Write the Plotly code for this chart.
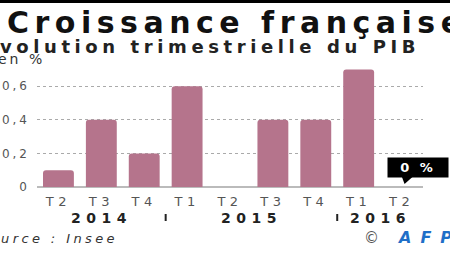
import plotly.graph_objects as go

quarters = ["T2", "T3", "T4", "T1", "T2", "T3", "T4", "T1", "T2"]
growth = [0.1, 0.4, 0.2, 0.6, 0.0, 0.4, 0.4, 0.7, 0.0]
years = ["2014", "2015", "2016"]
year_groups = [[0, 1, 2], [3, 4, 5, 6], [7, 8]]
year_breaks = [2.5, 6.5]
y_ticks = [0, 0.2, 0.4, 0.6]
y_ticklabels = ["0", "0,2", "0,4", "0,6"]
last_label = "0 %"

title = "Croissance française"
subtitle = "Évolution trimestrielle du PIB"
unit = "en %"
source = "Source : Insee"

BAR = "#b5748c"
W, H = 450, 253
ML, MR, MT, MB = 37, 27, 61, 66
PW, PH = W - ML - MR, H - MT - MB


def px_x(px):
    return (px - ML) / PW


def px_y(py):
    return (H - MB - py) / PH


def sp(text, ls):
    return f'<span style="letter-spacing:{ls}px">{text}</span>'


xs = list(range(len(quarters)))

fig = go.Figure()
fig.add_trace(go.Bar(
    x=xs, y=growth, marker=dict(color=BAR, cornerradius=3, line=dict(width=0)),
    hoverinfo="skip",
))

annotations = []
annotations.append(dict(
    text=sp(title, 5.5), xref="paper", yref="paper", x=px_x(469), y=px_y(23),
    xanchor="right", yanchor="middle", showarrow=False,
    font=dict(family="DejaVu Sans", size=30, color="#111", weight="bold"),
))
annotations.append(dict(
    text=sp(subtitle, 4.6), xref="paper", yref="paper", x=px_x(422), y=px_y(46),
    xanchor="right", yanchor="middle", showarrow=False,
    font=dict(family="DejaVu Sans", size=18, color="#222", weight="bold"),
))
annotations.append(dict(
    text=sp(unit, 3), xref="paper", yref="paper", x=px_x(47), y=px_y(59),
    xanchor="right", yanchor="middle", showarrow=False,
    font=dict(family="DejaVu Sans", size=14, color="#333"),
))
for yr, grp in zip(years, year_groups):
    annotations.append(dict(
        text=sp(yr, 5.5), xref="x", yref="paper", x=sum(grp) / len(grp), y=px_y(217.5),
        xanchor="center", yanchor="middle", showarrow=False,
        font=dict(family="DejaVu Sans", size=14, color="#222", weight="bold"),
    ))
annotations.append(dict(
    text=sp(source, 3.4), xref="paper", yref="paper", x=px_x(120), y=px_y(239),
    xanchor="right", yanchor="middle", showarrow=False,
    font=dict(family="DejaVu Sans", size=13, color="#333", style="italic"),
))
annotations.append(dict(
    text="©", xref="paper", yref="paper", x=px_x(371), y=px_y(238),
    xanchor="center", yanchor="middle", showarrow=False,
    font=dict(family="DejaVu Sans", size=15, color="#555"),
))
annotations.append(dict(
    text=sp("AFP", 9), xref="paper", yref="paper", x=px_x(395), y=px_y(237),
    xanchor="left", yanchor="middle", showarrow=False,
    font=dict(family="DejaVu Sans", size=16, color="#1f6fc8", weight="bold", style="italic"),
))
annotations.append(dict(
    text=sp(last_label, 3), xref="x", yref="y", x=xs[-1], y=growth[-1],
    xshift=16, yshift=19.5, width=58, height=17, bgcolor="#000",
    xanchor="center", yanchor="middle", showarrow=False,
    font=dict(family="DejaVu Sans", size=13, color="#fff", weight="bold"),
))

shapes = []
shapes.append(dict(
    type="rect", xref="paper", yref="paper", x0=px_x(-5), x1=px_x(455),
    y0=px_y(3), y1=px_y(-5), fillcolor="#000", line=dict(width=0), layer="above",
))
for b in year_breaks:
    shapes.append(dict(
        type="line", xref="x", yref="paper", x0=b, x1=b,
        y0=px_y(214), y1=px_y(221), line=dict(color="#222", width=2),
    ))
shapes.append(dict(
    type="path", xref="x", yref="y", xsizemode="pixel", ysizemode="pixel",
    xanchor=xs[-1], yanchor=growth[-1], path="M 0,11 L 12,11 L 3,3 Z",
    fillcolor="#000", line=dict(width=0),
))

fig.update_layout(
    width=W, height=H, margin=dict(l=ML, r=MR, t=MT, b=MB, autoexpand=False),
    paper_bgcolor="#fff", plot_bgcolor="#fff", showlegend=False,
    bargap=0.28, annotations=annotations, shapes=shapes,
    xaxis=dict(
        range=[-0.5, len(quarters) - 0.5], tickvals=xs, automargin=False,
        ticktext=[sp(q, 4.5) for q in quarters], showgrid=False, zeroline=False,
        showline=False, ticks="", ticklabelstandoff=5,
        tickfont=dict(family="DejaVu Sans", size=13, color="#555"),
    ),
    yaxis=dict(
        range=[0, 0.75], tickvals=y_ticks, automargin=False,
        ticktext=[sp(t, 3) for t in y_ticklabels],
        showgrid=True, gridcolor="#aaa", griddash="dot", gridwidth=1,
        zeroline=True, zerolinecolor="#bbb", zerolinewidth=1.5,
        showline=False, ticks="", ticklabelstandoff=6,
        tickfont=dict(family="DejaVu Sans", size=12, color="#555"),
    ),
)

fig.write_html("out.html")
